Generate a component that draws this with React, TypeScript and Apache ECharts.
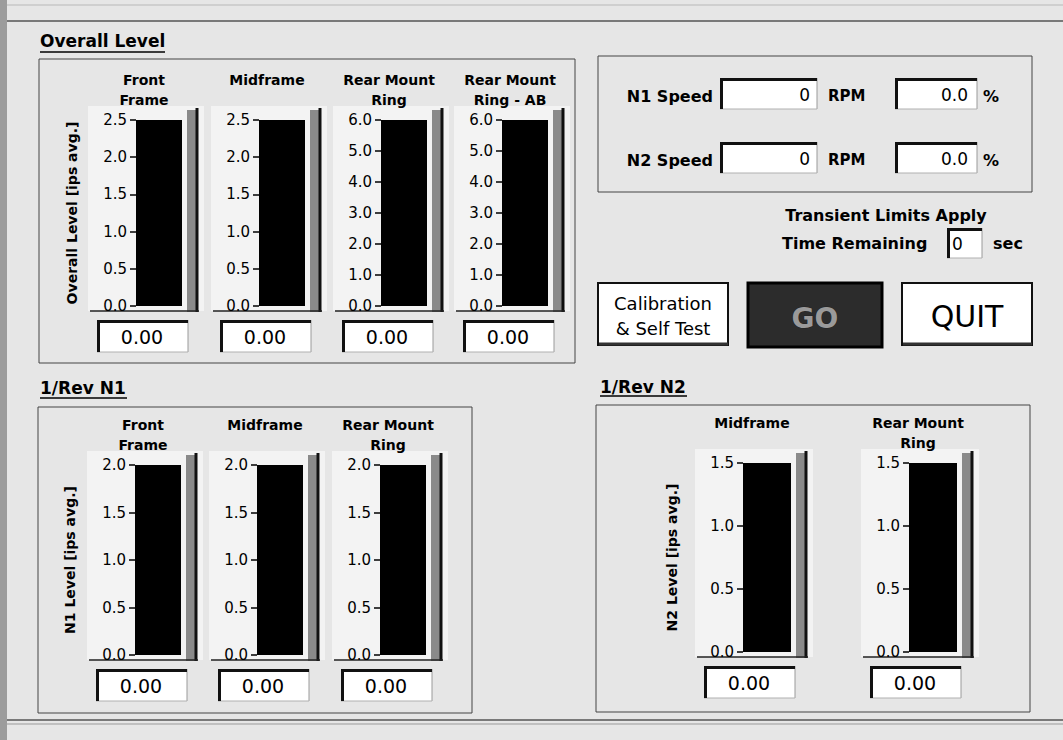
import React, { useEffect, useRef } from 'react';
import * as echarts from 'echarts';

// ---------- data ----------
const overallTitles = ['Front\nFrame', 'Midframe', 'Rear Mount\nRing', 'Rear Mount\nRing - AB'];
const overallMax = [2.5, 2.5, 6.0, 6.0];
const overallStep = [0.5, 0.5, 1.0, 1.0];
const overallValues = [0, 0, 0, 0];

const n1Titles = ['Front\nFrame', 'Midframe', 'Rear Mount\nRing'];
const n1Max = [2.0, 2.0, 2.0];
const n1Step = [0.5, 0.5, 0.5];
const n1Values = [0, 0, 0];

const n2Titles = ['Midframe', 'Rear Mount\nRing'];
const n2Max = [1.5, 1.5];
const n2Step = [0.5, 0.5];
const n2Values = [0, 0];

const speedNames = ['N1 Speed', 'N2 Speed'];
const speedRpm = [0, 0];
const speedPct = [0.0, 0.0];
const timeRemaining = 0;

// ---------- layout ----------
const FONT = 'DejaVu Sans';
const overallBarX = [136, 259, 381, 502];
const n1BarX = [135, 257, 380];
const n2BarX = [743, 909];

function buildOption() {
  const grids: any[] = [];
  const xAxes: any[] = [];
  const yAxes: any[] = [];
  const series: any[] = [];
  const g: any[] = [];

  const txt = (x: number, y: number, text: string, size: number, bold: boolean, align = 'left', vAlign = 'middle', fill = '#000', z = 20, extra: any = {}) => ({
    type: 'text', x, y, z,
    style: { text, fontSize: size, fontWeight: bold ? 'bold' : 'normal', fontFamily: FONT, fill, align, verticalAlign: vAlign, ...extra },
  });
  const line = (x1: number, y1: number, x2: number, y2: number, stroke = '#222', lineWidth = 1, z = 15) => ({
    type: 'line', z, shape: { x1, y1, x2, y2 }, style: { stroke, lineWidth },
  });
  const rect = (x: number, y: number, w: number, h: number, fill: string, stroke: string | null = null, lineWidth = 1, z = 1) => ({
    type: 'rect', z, shape: { x, y, width: w, height: h }, style: { fill, stroke: stroke || undefined, lineWidth },
  });
  const field = (x: number, y: number, w: number, h: number) => [
    rect(x, y, w, h, '#ffffff', null, 1, 2),
    line(x + w, y, x + w, y + h, '#9a9a9a', 1, 3),
    line(x, y + h, x + w, y + h, '#b0b0b0', 1, 3),
    { type: 'polyline', z: 4, shape: { points: [[x + 1.5, y + h], [x + 1.5, y + 1.5], [x + w, y + 1.5]] }, style: { stroke: '#111', lineWidth: 3, fill: 'none' } },
  ];

  const addGauge = (title: string, max: number, step: number, value: number, barX: number, barW: number, top: number, bottom: number, axisName: string, nameGap: number) => {
    const i = grids.length;
    grids.push({ left: barX, top, width: barW, height: bottom - top, outerBoundsMode: 'none', containLabel: false });
    xAxes.push({ type: 'category', gridIndex: i, data: [title.replace('\n', ' ')], show: false });
    yAxes.push({
      type: 'value', gridIndex: i, min: 0, max, interval: step, z: 10,
      axisLine: { show: false },
      axisTick: { show: true, length: 6, lineStyle: { color: '#000', width: 1.5 } },
      axisLabel: { margin: 9, color: '#000', fontSize: 15, fontFamily: FONT, formatter: (v: number) => v.toFixed(1) },
      splitLine: { show: false },
      name: axisName, nameLocation: 'middle', nameGap, nameRotate: 90,
      nameTextStyle: { color: '#000', fontSize: 14, fontWeight: 'bold', fontFamily: FONT },
    });
    series.push({
      type: 'bar', xAxisIndex: i, yAxisIndex: i, data: [value], barWidth: '100%',
      showBackground: true, backgroundStyle: { color: '#000', opacity: 1 },
      itemStyle: { color: '#000' }, z: 5, silent: true,
    });
    // light tank surround
    g.push(rect(barX - 48, top - 14, barW + 48 + 22, bottom - top + 19, '#f3f3f3', null, 1, 0));
    // 3D side strip
    g.push(rect(barX + barW + 5, top - 10, 11, bottom - top + 16, '#8a8a8a', null, 1, 6));
    g.push(line(barX + barW + 15, top - 12, barX + barW + 15, bottom + 6, '#111', 3, 7));
    // baseline
    g.push(line(barX - 46, bottom + 5, barX + barW + 17, bottom + 5, '#222', 1.5, 7));
    // title
    g.push(txt(barX + barW / 2 - 15, top - 50, title, 14, true, 'center', 'top', '#000', 20, { lineHeight: 20 }));
    // digital display
    const bx = barX - 39, by = bottom + 14, bw = 91, bh = 32;
    g.push(...field(bx, by, bw, bh));
    g.push(txt(bx + 45, by + bh / 2 + 1, value.toFixed(2), 19, false, 'center', 'middle', '#000', 20));
  };

  overallTitles.forEach((t, k) =>
    addGauge(t, overallMax[k], overallStep[k], overallValues[k], overallBarX[k], 46, 120, 306, k === 0 ? 'Overall Level [ips avg.]' : '', 57));
  n1Titles.forEach((t, k) =>
    addGauge(t, n1Max[k], n1Step[k], n1Values[k], n1BarX[k], 46, 465, 655, k === 0 ? 'N1 Level [ips avg.]' : '', 58));
  n2Titles.forEach((t, k) =>
    addGauge(t, n2Max[k], n2Step[k], n2Values[k], n2BarX[k], 48, 463, 652, k === 0 ? 'N2 Level [ips avg.]' : '', 64));

  // panel frame lines
  g.push(line(0, 5, 1063, 5, '#b8b8b8', 1, 0));
  g.push(line(0, 21, 1063, 21, '#555', 1.5, 0));
  g.push(line(0, 720, 1063, 720, '#555', 1.5, 0));
  g.push(line(0, 724, 1063, 724, '#999', 1, 0));
  g.push(rect(0, 0, 7, 740, '#9c9c9c', null, 1, 0));

  // group boxes
  g.push(rect(39, 59, 536, 304, 'none', '#444', 1, 3));
  g.push(rect(598, 56, 434, 136, 'none', '#444', 1, 3));
  g.push(rect(38, 407, 434, 306, 'none', '#444', 1, 3));
  g.push(rect(596, 405, 434, 307, 'none', '#444', 1, 3));

  // section titles
  g.push(txt(40, 41, 'Overall Level', 17, true));
  g.push(line(40, 52, 165, 52, '#000', 1.5, 20));
  g.push(txt(40, 388, '1/Rev N1', 17, true));
  g.push(line(40, 398, 127, 398, '#000', 1.5, 20));
  g.push(txt(600, 387, '1/Rev N2', 17, true));
  g.push(line(600, 396, 687, 396, '#000', 1.5, 20));

  // speed rows
  const rowY = [94, 158];
  speedNames.forEach((name, k) => {
    const y = rowY[k];
    g.push(txt(713, y + 2, name, 16, true, 'right'));
    g.push(...field(720, y - 16, 97, 31));
    g.push(txt(810, y + 1, String(speedRpm[k]), 17, false, 'right'));
    g.push(txt(828, y + 2, 'RPM', 15, true));
    g.push(...field(895, y - 16, 82, 31));
    g.push(txt(968, y + 1, speedPct[k].toFixed(1), 17, false, 'right'));
    g.push(txt(983, y + 2, '%', 16, true));
  });

  g.push(txt(886, 215, 'Transient Limits Apply', 16, true, 'center'));
  g.push(txt(782, 243, 'Time Remaining', 16, true));
  g.push(...field(947, 228, 35, 30));
  g.push(txt(952, 244, String(timeRemaining), 17, false));
  g.push(txt(993, 243, 'sec', 16, true));

  // buttons
  g.push(rect(598, 283, 130, 62, '#ffffff', '#111', 2, 3));
  g.push(line(599, 344, 728, 344, '#333', 3, 4));
  g.push(txt(663, 303, 'Calibration', 18, false, 'center'));
  g.push(txt(663, 328, '& Self Test', 18, false, 'center'));

  g.push(rect(748, 283, 134, 64, '#2c2c2c', '#000', 3, 3));
  g.push(txt(815, 318, 'GO', 28, true, 'center', 'middle', '#9a9a9a', 20, { stroke: '#222', lineWidth: 1 }));

  g.push(rect(902, 283, 130, 62, '#ffffff', '#111', 2, 3));
  g.push(line(903, 344, 1032, 344, '#333', 3, 4));
  g.push(txt(967, 316, 'QUIT', 30, false, 'center'));

  return {
    animation: false,
    backgroundColor: '#e6e6e6',
    grid: grids,
    xAxis: xAxes,
    yAxis: yAxes,
    series,
    graphic: { elements: g },
  };
}

export default function App() {
  const ref = useRef<HTMLDivElement>(null);
  useEffect(() => {
    const chart = echarts.init(ref.current!, null, { renderer: 'svg', width: 1063, height: 740 });
    chart.setOption(buildOption() as any);
    return () => chart.dispose();
  }, []);
  return <div ref={ref} style={{ position: 'absolute', left: 0, top: 0, width: 1063, height: 740 }} />;
}
